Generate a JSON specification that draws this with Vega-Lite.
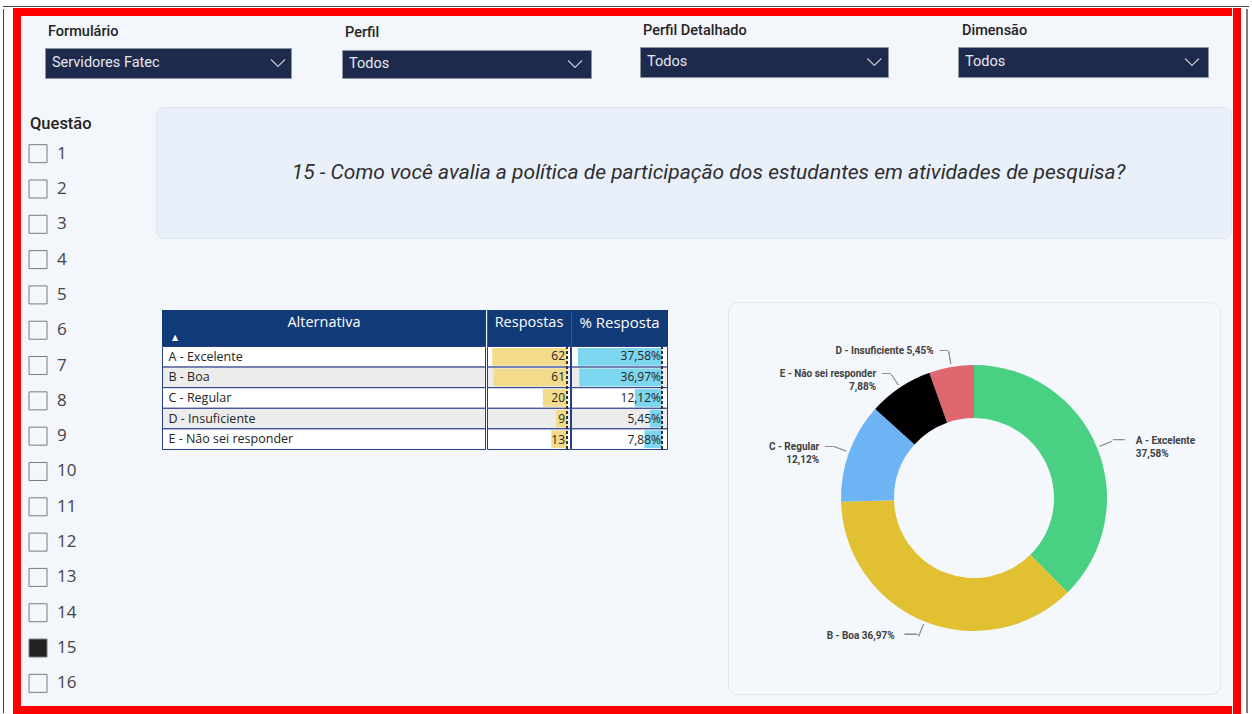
{
  "$schema": "https://vega.github.io/schema/vega-lite/v6.json",
  "background": "#f3f6fb",
  "padding": 0,
  "config": {"view": {"stroke": null}, "concat": {"spacing": 0}},
  "datasets": {
    "vazio": [{"v": 1}],
    "filtros": [
      {"filtro": "Formulário", "valor": "Servidores Fatec"},
      {"filtro": "Perfil", "valor": "Todos"},
      {"filtro": "Perfil Detalhado", "valor": "Todos"},
      {"filtro": "Dimensão", "valor": "Todos"}
    ],
    "questoes": [
      {"q": 1, "marcada": false}, {"q": 2, "marcada": false}, {"q": 3, "marcada": false}, {"q": 4, "marcada": false},
      {"q": 5, "marcada": false}, {"q": 6, "marcada": false}, {"q": 7, "marcada": false}, {"q": 8, "marcada": false},
      {"q": 9, "marcada": false}, {"q": 10, "marcada": false}, {"q": 11, "marcada": false}, {"q": 12, "marcada": false},
      {"q": 13, "marcada": false}, {"q": 14, "marcada": false}, {"q": 15, "marcada": true}, {"q": 16, "marcada": false}
    ],
    "titulo": [{"texto": "15 - Como você avalia a política de participação dos estudantes em atividades de pesquisa?"}],
    "colunas": [{"coluna": "Alternativa"}, {"coluna": "Respostas"}, {"coluna": "% Resposta"}],
    "respostas": [
      {"alt": "A - Excelente", "ordem": 1, "respostas": 62, "pct": 37.58, "pct_txt": "37,58%", "rotulo": ["A - Excelente", "37,58%"]},
      {"alt": "B - Boa", "ordem": 2, "respostas": 61, "pct": 36.97, "pct_txt": "36,97%", "rotulo": "B - Boa 36,97%"},
      {"alt": "C - Regular", "ordem": 3, "respostas": 20, "pct": 12.12, "pct_txt": "12,12%", "rotulo": ["C - Regular", "12,12%"]},
      {"alt": "D - Insuficiente", "ordem": 4, "respostas": 9, "pct": 5.45, "pct_txt": "5,45%", "rotulo": "D - Insuficiente 5,45%"},
      {"alt": "E - Não sei responder", "ordem": 5, "respostas": 13, "pct": 7.88, "pct_txt": "7,88%", "rotulo": ["E - Não sei responder", "7,88%"]}
    ]
  },
  "vconcat": [
    {"width": 1252, "height": 8, "data": {"name": "vazio"}, "view": {"fill": "#ffffff"},
     "mark": {"type": "rule", "color": "#444444", "strokeWidth": 1},
     "encoding": {
       "x": {"datum": 0.0024, "type": "quantitative", "scale": {"domain": [0, 1]}, "axis": null},
       "x2": {"datum": 0.9976},
       "y": {"datum": 0.19, "type": "quantitative", "scale": {"domain": [0, 1]}, "axis": null}
     }},
    {
      "hconcat": [
        {"width": 13, "height": 706, "data": {"name": "vazio"}, "view": {"fill": "#ffffff"},
         "mark": {"type": "rule", "color": "#444444", "strokeWidth": 1},
         "encoding": {
           "x": {"datum": 0.27, "type": "quantitative", "scale": {"domain": [0, 1]}, "axis": null},
           "y": {"datum": 0, "type": "quantitative", "scale": {"domain": [0, 1], "padding": 1}, "axis": null},
           "y2": {"datum": 1}
         }},
        {"width": 8, "height": 706, "data": {"name": "vazio"}, "view": {"fill": "#ff0000"}, "mark": {"type": "text", "fontSize": 0.1}, "encoding": {"text": {"value": ""}}},
        {
          "vconcat": [
            {"width": 1211, "height": 8, "data": {"name": "vazio"}, "view": {"fill": "#ff0000"}, "mark": {"type": "text", "fontSize": 0.1}, "encoding": {"text": {"value": ""}}},
            {
              "vconcat": [
                {
                  "hconcat": [
                    {"width": 23, "height": 63, "data": {"name": "vazio"}, "mark": {"type": "text", "fontSize": 0.1}, "encoding": {"text": {"value": ""}}},
                    {
                      "vconcat": [
                        {"width": 246, "height": 31, "data": {"name": "filtros"}, "transform": [{"filter": "datum.filtro == 'Formulário'"}],
                         "mark": {"type": "text", "align": "left", "baseline": "middle", "dx": 3, "fontSize": 14.5, "font": "Roboto", "fontWeight": 500, "color": "#252423"},
                         "encoding": {"text": {"field": "filtro"}, "x": {"datum": 0, "type": "quantitative", "scale": {"domain": [0, 1]}, "axis": null}}},
                        {"width": 246, "height": 30, "data": {"name": "filtros"}, "transform": [{"filter": "datum.filtro == 'Formulário'"}], "view": {"fill": "#1e2a4b", "stroke": "#8e949f"},
                         "layer": [
                           {"mark": {"type": "text", "align": "left", "baseline": "middle", "dx": 7, "fontSize": 14.5, "font": "Roboto", "color": "#e6e8ee"},
                            "encoding": {"text": {"field": "valor"}, "x": {"datum": 0, "type": "quantitative", "scale": {"domain": [0, 1]}, "axis": null}}},
                           {"mark": {"type": "point", "shape": "M-1,-0.5L0,0.5L1,-0.5", "filled": false, "size": 196, "color": "#c9ccd3", "strokeWidth": 1.1, "opacity": 1},
                            "encoding": {"x": {"datum": 0.947, "type": "quantitative", "scale": {"domain": [0, 1]}, "axis": null}}}
                         ]}
                      ], "spacing": 0
                    },
                    {"width": 49, "height": 10, "data": {"name": "vazio"}, "mark": {"type": "text", "fontSize": 0.1}, "encoding": {"text": {"value": ""}}},
                    {
                      "vconcat": [
                        {"width": 249, "height": 33, "data": {"name": "filtros"}, "transform": [{"filter": "datum.filtro == 'Perfil'"}],
                         "mark": {"type": "text", "align": "left", "baseline": "middle", "dx": 3, "fontSize": 14.5, "font": "Roboto", "fontWeight": 500, "color": "#252423"},
                         "encoding": {"text": {"field": "filtro"}, "x": {"datum": 0, "type": "quantitative", "scale": {"domain": [0, 1]}, "axis": null}}},
                        {"width": 249, "height": 28, "data": {"name": "filtros"}, "transform": [{"filter": "datum.filtro == 'Perfil'"}], "view": {"fill": "#1e2a4b", "stroke": "#8e949f"},
                         "layer": [
                           {"mark": {"type": "text", "align": "left", "baseline": "middle", "dx": 7, "fontSize": 14.5, "font": "Roboto", "color": "#e6e8ee"},
                            "encoding": {"text": {"field": "valor"}, "x": {"datum": 0, "type": "quantitative", "scale": {"domain": [0, 1]}, "axis": null}}},
                           {"mark": {"type": "point", "shape": "M-1,-0.5L0,0.5L1,-0.5", "filled": false, "size": 196, "color": "#c9ccd3", "strokeWidth": 1.1, "opacity": 1},
                            "encoding": {"x": {"datum": 0.936, "type": "quantitative", "scale": {"domain": [0, 1]}, "axis": null}}}
                         ]}
                      ], "spacing": 0
                    },
                    {"width": 47, "height": 10, "data": {"name": "vazio"}, "mark": {"type": "text", "fontSize": 0.1}, "encoding": {"text": {"value": ""}}},
                    {
                      "vconcat": [
                        {"width": 248, "height": 30, "data": {"name": "filtros"}, "transform": [{"filter": "datum.filtro == 'Perfil Detalhado'"}],
                         "mark": {"type": "text", "align": "left", "baseline": "middle", "dx": 3, "fontSize": 14.5, "font": "Roboto", "fontWeight": 500, "color": "#252423"},
                         "encoding": {"text": {"field": "filtro"}, "x": {"datum": 0, "type": "quantitative", "scale": {"domain": [0, 1]}, "axis": null}}},
                        {"width": 248, "height": 30, "data": {"name": "filtros"}, "transform": [{"filter": "datum.filtro == 'Perfil Detalhado'"}], "view": {"fill": "#1e2a4b", "stroke": "#8e949f"},
                         "layer": [
                           {"mark": {"type": "text", "align": "left", "baseline": "middle", "dx": 7, "fontSize": 14.5, "font": "Roboto", "color": "#e6e8ee"},
                            "encoding": {"text": {"field": "valor"}, "x": {"datum": 0, "type": "quantitative", "scale": {"domain": [0, 1]}, "axis": null}}},
                           {"mark": {"type": "point", "shape": "M-1,-0.5L0,0.5L1,-0.5", "filled": false, "size": 196, "color": "#c9ccd3", "strokeWidth": 1.1, "opacity": 1},
                            "encoding": {"x": {"datum": 0.945, "type": "quantitative", "scale": {"domain": [0, 1]}, "axis": null}}}
                         ]}
                      ], "spacing": 0
                    },
                    {"width": 68, "height": 10, "data": {"name": "vazio"}, "mark": {"type": "text", "fontSize": 0.1}, "encoding": {"text": {"value": ""}}},
                    {
                      "vconcat": [
                        {"width": 250, "height": 30, "data": {"name": "filtros"}, "transform": [{"filter": "datum.filtro == 'Dimensão'"}],
                         "mark": {"type": "text", "align": "left", "baseline": "middle", "dx": 4, "fontSize": 14.5, "font": "Roboto", "fontWeight": 500, "color": "#252423"},
                         "encoding": {"text": {"field": "filtro"}, "x": {"datum": 0, "type": "quantitative", "scale": {"domain": [0, 1]}, "axis": null}}},
                        {"width": 250, "height": 30, "data": {"name": "filtros"}, "transform": [{"filter": "datum.filtro == 'Dimensão'"}], "view": {"fill": "#1e2a4b", "stroke": "#8e949f"},
                         "layer": [
                           {"mark": {"type": "text", "align": "left", "baseline": "middle", "dx": 7, "fontSize": 14.5, "font": "Roboto", "color": "#e6e8ee"},
                            "encoding": {"text": {"field": "valor"}, "x": {"datum": 0, "type": "quantitative", "scale": {"domain": [0, 1]}, "axis": null}}},
                           {"mark": {"type": "point", "shape": "M-1,-0.5L0,0.5L1,-0.5", "filled": false, "size": 196, "color": "#c9ccd3", "strokeWidth": 1.1, "opacity": 1},
                            "encoding": {"x": {"datum": 0.936, "type": "quantitative", "scale": {"domain": [0, 1]}, "axis": null}}}
                         ]}
                      ], "spacing": 0
                    }
                  ], "spacing": 0
                },
                {
                  "hconcat": [
                    {
                      "vconcat": [
                        {"width": 134, "height": 33, "data": {"name": "vazio"}, "mark": {"type": "text", "fontSize": 0.1}, "encoding": {"text": {"value": ""}}},
                        {"width": 134, "height": 24, "data": {"name": "vazio"},
                         "mark": {"type": "text", "align": "left", "baseline": "middle", "dx": 9, "fontSize": 16.5, "font": "Roboto", "fontWeight": 500, "color": "#252423"},
                         "encoding": {"text": {"value": "Questão"}, "x": {"datum": 0, "type": "quantitative", "scale": {"domain": [0, 1]}, "axis": null}}},
                        {"width": 134, "height": 565, "data": {"name": "questoes"},
                         "layer": [
                           {"mark": {"type": "point", "shape": "square", "size": 324, "filled": true, "stroke": "#7a7a7a", "strokeWidth": 1, "opacity": 1},
                            "encoding": {
                              "y": {"field": "q", "type": "ordinal", "scale": {"paddingInner": 0, "paddingOuter": 0}, "axis": null},
                              "x": {"datum": 0.127, "type": "quantitative", "scale": {"domain": [0, 1]}, "axis": null},
                              "fill": {"condition": {"test": "datum.marcada", "value": "#222222"}, "value": "transparent"}
                            }},
                           {"mark": {"type": "text", "align": "left", "baseline": "middle", "dx": 36, "fontSize": 17, "font": "Open Sans", "color": "#444444"},
                            "encoding": {
                              "y": {"field": "q", "type": "ordinal", "scale": {"paddingInner": 0, "paddingOuter": 0}, "axis": null},
                              "x": {"datum": 0, "type": "quantitative", "scale": {"domain": [0, 1]}, "axis": null},
                              "text": {"field": "q", "type": "nominal"}
                            }}
                         ]},
                        {"width": 134, "height": 5, "data": {"name": "vazio"}, "mark": {"type": "text", "fontSize": 0.1}, "encoding": {"text": {"value": ""}}}
                      ], "spacing": 0
                    },
                    {
                      "vconcat": [
                        {"width": 1077, "height": 27, "data": {"name": "vazio"}, "mark": {"type": "text", "fontSize": 0.1}, "encoding": {"text": {"value": ""}}},
                        {"width": 1075, "height": 131, "data": {"name": "titulo"}, "view": {"fill": "#e9f0fa", "stroke": "#dde4ee", "cornerRadius": 8},
                         "mark": {"type": "text", "align": "center", "baseline": "middle", "dx": 15, "fontSize": 21, "font": "Roboto", "fontStyle": "italic", "color": "#2e2e2e"},
                         "encoding": {"text": {"field": "texto"}}},
                        {"width": 1077, "height": 62, "data": {"name": "vazio"}, "mark": {"type": "text", "fontSize": 0.1}, "encoding": {"text": {"value": ""}}},
                        {
                          "hconcat": [
                            {"width": 6, "height": 10, "data": {"name": "vazio"}, "mark": {"type": "text", "fontSize": 0.1}, "encoding": {"text": {"value": ""}}},
                            {
                              "vconcat": [
                                {"width": 505, "height": 8, "data": {"name": "vazio"}, "mark": {"type": "text", "fontSize": 0.1}, "encoding": {"text": {"value": ""}}},
                                {
                                  "hconcat": [
                                    {"width": 324, "height": 36, "data": {"name": "colunas"}, "transform": [{"filter": "datum.coluna == 'Alternativa'"}], "view": {"fill": "#113a78"},
                                     "layer": [
                                       {"mark": {"type": "text", "align": "center", "baseline": "middle", "dy": -5, "fontSize": 14.5, "font": "Open Sans", "color": "#ffffff"}, "encoding": {"text": {"field": "coluna"}}},
                                       {"mark": {"type": "text", "align": "center", "baseline": "middle", "dx": 13, "dy": 10, "fontSize": 8, "font": "DejaVu Sans", "color": "#ffffff"},
                                        "encoding": {"text": {"value": "▲"}, "x": {"datum": 0, "type": "quantitative", "scale": {"domain": [0, 1]}, "axis": null}}}
                                     ]},
                                    {"width": 84, "height": 36, "data": {"name": "colunas"}, "transform": [{"filter": "datum.coluna == 'Respostas'"}], "view": {"fill": "#113a78"},
                                     "layer": [
                                       {"mark": {"type": "rule", "color": "#2e5aa8", "strokeWidth": 1},
                                        "encoding": {
                                          "x": {"datum": 0, "type": "quantitative", "scale": {"domain": [0, 1], "padding": 0.5}, "axis": null},
                                          "y": {"datum": 0, "type": "quantitative", "scale": {"domain": [0, 1], "padding": 1}, "axis": null},
                                          "y2": {"datum": 1}
                                        }},
                                       {"mark": {"type": "text", "align": "center", "baseline": "middle", "dy": -5, "fontSize": 14.5, "font": "Open Sans", "color": "#ffffff"}, "encoding": {"text": {"field": "coluna"}}}
                                     ]},
                                    {"width": 97, "height": 36, "data": {"name": "colunas"}, "transform": [{"filter": "datum.coluna == '% Resposta'"}], "view": {"fill": "#113a78"},
                                     "layer": [
                                       {"mark": {"type": "rule", "color": "#2e5aa8", "strokeWidth": 1},
                                        "encoding": {
                                          "x": {"datum": 0, "type": "quantitative", "scale": {"domain": [0, 1], "padding": 0.5}, "axis": null},
                                          "y": {"datum": 0, "type": "quantitative", "scale": {"domain": [0, 1], "padding": 1}, "axis": null},
                                          "y2": {"datum": 1}
                                        }},
                                       {"mark": {"type": "text", "align": "center", "baseline": "middle", "dy": -5, "fontSize": 15, "font": "Open Sans", "color": "#ffffff"}, "encoding": {"text": {"field": "coluna"}}}
                                     ]}
                                  ], "spacing": 0
                                },
                                {
                                  "hconcat": [
                                    {"width": 324, "height": 104, "data": {"name": "respostas"},
                                     "layer": [
                                       {"mark": {"type": "rect", "stroke": "#283c8c", "strokeWidth": 1},
                                        "encoding": {
                                          "y": {"field": "alt", "type": "nominal", "scale": {"paddingInner": 0, "paddingOuter": 0.025}, "axis": null},
                                          "x": {"datum": 0, "type": "quantitative", "scale": {"domain": [0, 1], "padding": 0.5}, "axis": null}, "x2": {"datum": 1},
                                          "fill": {"condition": {"test": "datum.ordem % 2 == 0", "value": "#ececec"}, "value": "#ffffff"}
                                        }},
                                       {"mark": {"type": "text", "align": "left", "baseline": "middle", "dx": 6, "fontSize": 12.5, "font": "Open Sans", "color": "#252423"},
                                        "encoding": {
                                          "y": {"field": "alt", "type": "nominal", "scale": {"paddingInner": 0, "paddingOuter": 0.025}, "axis": null},
                                          "x": {"datum": 0, "type": "quantitative", "scale": {"domain": [0, 1], "padding": 0.5}, "axis": null},
                                          "text": {"field": "alt"}
                                        }}
                                     ]},
                                    {"width": 84, "height": 104, "data": {"name": "respostas"},
                                     "resolve": {"scale": {"x": "independent", "y": "independent"}},
                                     "layer": [
                                       {"mark": {"type": "rect", "stroke": "#283c8c", "strokeWidth": 1},
                                        "encoding": {
                                          "y": {"field": "alt", "type": "nominal", "scale": {"paddingInner": 0, "paddingOuter": 0.025}, "axis": null},
                                          "x": {"datum": 0, "type": "quantitative", "scale": {"domain": [0, 1], "padding": 0.5}, "axis": null}, "x2": {"datum": 1},
                                          "fill": {"condition": {"test": "datum.ordem % 2 == 0", "value": "#ececec"}, "value": "#ffffff"}
                                        }},
                                       {"mark": {"type": "bar", "height": {"band": 0.86}, "color": "#f2dc8c"},
                                        "encoding": {
                                          "y": {"field": "alt", "type": "nominal", "scale": {"paddingInner": 0, "paddingOuter": 0.025}, "axis": null},
                                          "x": {"field": "respostas", "type": "quantitative", "scale": {"domain": [0, 63], "reverse": true, "padding": 4, "nice": false, "zero": false}, "axis": null},
                                          "x2": {"datum": 0}
                                        }},
                                       {"mark": {"type": "rule", "strokeDash": [3, 2], "color": "#333333", "strokeWidth": 1.5},
                                        "encoding": {
                                          "x": {"datum": 0, "type": "quantitative", "scale": {"domain": [0, 63], "reverse": true, "padding": 4, "nice": false, "zero": false}, "axis": null},
                                          "y": {"datum": 0, "type": "quantitative", "scale": {"domain": [0, 1], "padding": 1}, "axis": null},
                                          "y2": {"datum": 1}
                                        }},
                                       {"mark": {"type": "text", "align": "right", "baseline": "middle", "dx": -2, "fontSize": 12, "font": "Open Sans", "color": "#252423"},
                                        "encoding": {
                                          "y": {"field": "alt", "type": "nominal", "scale": {"paddingInner": 0, "paddingOuter": 0.025}, "axis": null},
                                          "x": {"datum": 0, "type": "quantitative", "scale": {"domain": [0, 63], "reverse": true, "padding": 4, "nice": false, "zero": false}, "axis": null},
                                          "text": {"field": "respostas", "type": "nominal"}
                                        }}
                                     ]},
                                    {"width": 97, "height": 104, "data": {"name": "respostas"},
                                     "resolve": {"scale": {"x": "independent", "y": "independent"}},
                                     "layer": [
                                       {"mark": {"type": "rect", "stroke": "#283c8c", "strokeWidth": 1},
                                        "encoding": {
                                          "y": {"field": "alt", "type": "nominal", "scale": {"paddingInner": 0, "paddingOuter": 0.025}, "axis": null},
                                          "x": {"datum": 0, "type": "quantitative", "scale": {"domain": [0, 1], "padding": 0.5}, "axis": null}, "x2": {"datum": 1},
                                          "fill": {"condition": {"test": "datum.ordem % 2 == 0", "value": "#ececec"}, "value": "#ffffff"}
                                        }},
                                       {"mark": {"type": "bar", "height": {"band": 0.86}, "color": "#7dd6ef"},
                                        "encoding": {
                                          "y": {"field": "alt", "type": "nominal", "scale": {"paddingInner": 0, "paddingOuter": 0.025}, "axis": null},
                                          "x": {"field": "pct", "type": "quantitative", "scale": {"domain": [0, 38], "reverse": true, "padding": 6, "nice": false, "zero": false}, "axis": null},
                                          "x2": {"datum": 0}
                                        }},
                                       {"mark": {"type": "rule", "strokeDash": [3, 2], "color": "#333333", "strokeWidth": 1.5},
                                        "encoding": {
                                          "x": {"datum": 0, "type": "quantitative", "scale": {"domain": [0, 38], "reverse": true, "padding": 6, "nice": false, "zero": false}, "axis": null},
                                          "y": {"datum": 0, "type": "quantitative", "scale": {"domain": [0, 1], "padding": 1}, "axis": null},
                                          "y2": {"datum": 1}
                                        }},
                                       {"mark": {"type": "text", "align": "right", "baseline": "middle", "dx": -1, "fontSize": 12, "font": "Open Sans", "color": "#252423"},
                                        "encoding": {
                                          "y": {"field": "alt", "type": "nominal", "scale": {"paddingInner": 0, "paddingOuter": 0.025}, "axis": null},
                                          "x": {"datum": 0, "type": "quantitative", "scale": {"domain": [0, 38], "reverse": true, "padding": 6, "nice": false, "zero": false}, "axis": null},
                                          "text": {"field": "pct_txt"}
                                        }}
                                     ]}
                                  ], "spacing": 0
                                }
                              ], "spacing": 0
                            },
                            {"width": 59, "height": 10, "data": {"name": "vazio"}, "mark": {"type": "text", "fontSize": 0.1}, "encoding": {"text": {"value": ""}}},
                            {"width": 492, "height": 392, "data": {"name": "respostas"}, "view": {"fill": "#f4f7fc", "stroke": "#e0e4eb", "cornerRadius": 10},
                             "encoding": {
                               "theta": {"field": "respostas", "type": "quantitative", "stack": true},
                               "order": {"field": "respostas", "type": "quantitative", "sort": "descending"}
                             },
                             "layer": [
                               {"mark": {"type": "arc", "innerRadius": 80, "outerRadius": 133},
                                "encoding": {"color": {"field": "alt", "type": "nominal", "scale": {"domain": ["A - Excelente", "B - Boa", "C - Regular", "D - Insuficiente", "E - Não sei responder"], "range": ["#4ad082", "#e1c132", "#6cb4f4", "#df6870", "#000000"]}, "legend": null}}},
                               {"mark": {"type": "arc", "innerRadius": 136, "outerRadius": 149, "padAngle": 3.1, "fill": "transparent", "stroke": "#8f8f8f", "strokeWidth": 1}},
                               {"mark": {"type": "text", "radius": 149, "align": "left", "baseline": "middle", "fontSize": 18, "font": "Roboto", "color": "#8f8f8f"},
                                "encoding": {"text": {"condition": {"test": "datum.ordem == 1", "value": "—"}, "value": ""}}},
                               {"mark": {"type": "text", "radius": 149, "align": "right", "baseline": "middle", "fontSize": 20, "font": "Roboto", "color": "#8f8f8f"},
                                "encoding": {"text": {"condition": {"test": "datum.ordem == 2", "value": "—"}, "value": ""}}},
                               {"mark": {"type": "text", "radius": 149, "align": "right", "baseline": "middle", "fontSize": 13, "font": "Roboto", "color": "#8f8f8f"},
                                "encoding": {"text": {"condition": {"test": "datum.ordem >= 3", "value": "—"}, "value": ""}}},
                               {"mark": {"type": "text", "radius": 149, "align": "left", "baseline": "middle", "dx": 24, "fontSize": 10, "lineHeight": 13, "font": "Roboto", "fontWeight": "bold", "color": "#404040"},
                                "encoding": {"text": {"condition": {"test": "datum.ordem == 1", "field": "rotulo"}, "value": ""}}},
                               {"mark": {"type": "text", "radius": 149, "align": "right", "baseline": "middle", "dx": -24, "fontSize": 10, "lineHeight": 13, "font": "Roboto", "fontWeight": "bold", "color": "#404040"},
                                "encoding": {"text": {"condition": {"test": "datum.ordem == 2", "field": "rotulo"}, "value": ""}}},
                               {"mark": {"type": "text", "radius": 149, "align": "right", "baseline": "middle", "dx": -15, "fontSize": 10, "lineHeight": 13, "font": "Roboto", "fontWeight": "bold", "color": "#404040"},
                                "encoding": {"text": {"condition": {"test": "datum.ordem >= 3", "field": "rotulo"}, "value": ""}}}
                             ]}
                          ], "spacing": 0
                        }
                      ], "spacing": 0
                    }
                  ], "spacing": 0
                }
              ], "spacing": 0
            },
            {"width": 1211, "height": 8, "data": {"name": "vazio"}, "view": {"fill": "#ff0000"}, "mark": {"type": "text", "fontSize": 0.1}, "encoding": {"text": {"value": ""}}}
          ], "spacing": 0
        },
        {"width": 8, "height": 706, "data": {"name": "vazio"}, "view": {"fill": "#ff0000"}, "mark": {"type": "text", "fontSize": 0.1}, "encoding": {"text": {"value": ""}}},
        {"width": 12, "height": 706, "data": {"name": "vazio"}, "view": {"fill": "#ffffff"},
         "mark": {"type": "rule", "color": "#555555", "strokeWidth": 1.5},
         "encoding": {
           "x": {"datum": 0.5, "type": "quantitative", "scale": {"domain": [0, 1]}, "axis": null},
           "y": {"datum": 0, "type": "quantitative", "scale": {"domain": [0, 1], "padding": 1}, "axis": null},
           "y2": {"datum": 1}
         }}
      ], "spacing": 0
    }
  ],
  "spacing": 0
}
